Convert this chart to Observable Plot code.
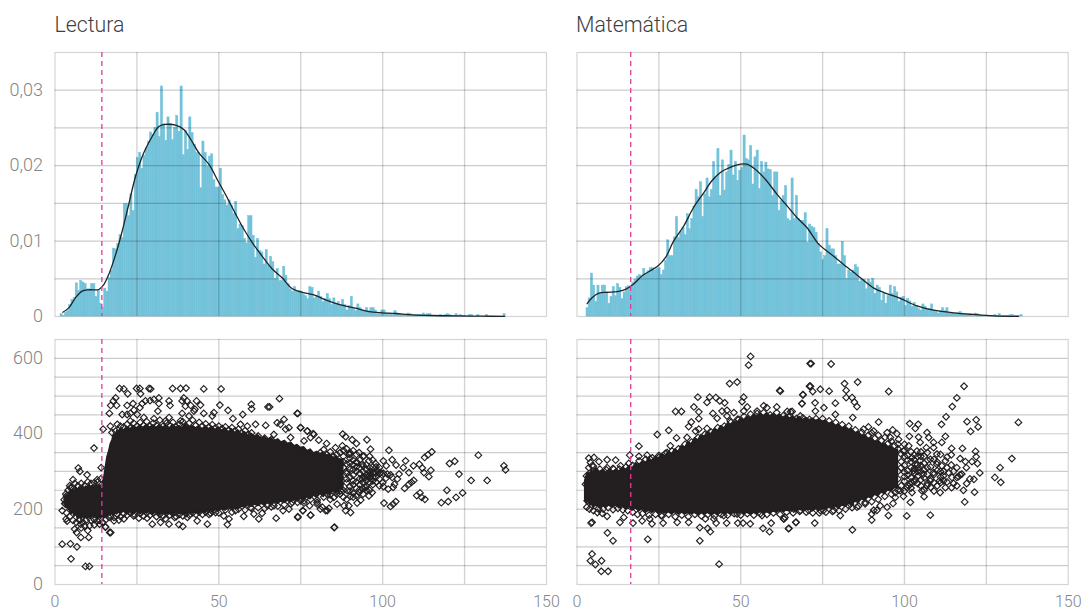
<!DOCTYPE html>
<html lang="es">
<head>
<meta charset="utf-8">
<script src="https://cdn.jsdelivr.net/npm/d3@7"></script>
<script src="https://cdn.jsdelivr.net/npm/@observablehq/plot@0.6"></script>
<style>
html,body{margin:0;padding:0;background:#fff;}
#page{position:relative;width:1083px;height:610px;overflow:hidden;font-family:Roboto,sans-serif;}
.title{position:absolute;top:11px;font-size:21.3px;font-weight:300;color:#3f3f3f;line-height:28px;}
.panel{position:absolute;}
.panel svg{overflow:visible;display:block;}
</style>
</head>
<body>
<div id="page"></div>
<script>
const titles = ["Lectura", "Matemática"];
const xTicks = [0, 50, 100, 150];
const xGrid = [25, 50, 75, 100, 125];
const densityTicks = [0, 0.01, 0.02, 0.03];
const densityGrid = [0.005, 0.01, 0.015, 0.02, 0.025, 0.03];
const scoreTicks = [0, 200, 400, 600];
const scoreGrid = [50, 100, 150, 200, 250, 300, 350, 400, 450, 500, 550, 600];
const cutLectura = 14.3;
const cutMatematica = 16.4;

// histogram bar heights, density x 10000, one per bin
const binWidth = 0.666;
const binStartLectura = 1.68;
const binStartMatematica = 2.9;
const barsLectura = [3,1,5,7,15,22,25,44,34,47,45,43,36,36,43,43,26,34,17,11,37,33,51,61,90,89,96,108,104,149,149,133,162,140,188,210,217,196,213,223,232,244,241,250,270,238,305,255,233,264,255,234,250,266,245,305,214,246,221,264,243,228,217,217,170,232,217,199,212,215,181,171,171,196,161,154,147,154,147,136,152,116,122,120,103,97,133,133,107,78,103,87,85,69,88,67,79,72,50,63,47,47,66,54,43,36,33,39,32,34,33,29,27,23,39,38,24,27,33,26,19,23,30,23,15,24,17,19,14,22,15,8,14,26,10,7,16,11,8,7,11,7,11,11,8,3,3,8,8,4,3,3,2,7,4,2,2,2,2,4,3,1,2,2,2,2,4,2,3,3,1,1,1,1,2,1,2,3,2,1,1,3,1,2,1,1,0,2,2,0,0,2,0,0,0,2,0,0,0,0,0,0,0,3];
const barsMatematica = [11,24,57,41,19,41,30,41,41,32,17,26,39,27,43,38,23,32,39,40,38,45,49,53,55,53,63,56,60,64,64,61,63,64,55,61,74,101,80,80,105,132,104,112,118,108,136,116,129,146,168,158,178,132,162,183,158,168,205,183,222,160,207,167,191,201,220,187,205,180,193,197,240,209,207,226,175,211,220,169,205,191,204,195,194,160,191,191,140,153,160,173,129,127,183,129,160,129,127,127,137,98,122,119,117,111,96,85,75,80,116,94,89,89,80,69,69,99,80,50,61,58,61,68,65,46,49,49,36,49,45,50,30,41,38,21,30,17,27,41,30,39,32,19,25,26,14,23,20,13,18,14,10,8,16,13,9,10,16,8,6,4,7,11,7,11,4,4,4,4,4,6,4,3,2,2,2,1,4,3,2,1,1,1,1,1,1,2,1,3,1,1,1,1,2,2,1,1,1,2];

// smooth density curves: [x, density x 10000]
const curveLectura = [[2.4,5.7],[4.2,11.5],[6.25,24.8],[8.3,33.6],[10.3,35.4],[13.4,35.8],[14.9,42.4],[16.4,55.7],[18.5,82],[20.5,113],[22.5,148.5],[24.6,186],[27.1,217],[29.7,239],[31.7,252],[33.7,254.6],[36.8,253.7],[39.3,248],[41.4,235],[43.9,217],[47,201.6],[49.5,181.7],[52,162],[55.1,136],[57.6,116],[60.2,98],[63.2,80],[66.3,63],[69.4,51],[71.9,38.5],[73.9,34],[76.5,31],[79.5,28],[82.6,22],[86.6,16],[91.7,11],[95.8,6.6],[99.8,4.9],[103.9,4],[109,2.2],[115,1.3],[122,0.9],[130,0.4],[137.2,0.2]];
const curveMatematica = [[3.1,17],[4.6,25],[6.7,31],[9.2,32],[12.3,33],[14.8,36],[17.3,43],[19.9,54],[22.4,60.6],[24.7,67],[27,78],[29.5,100],[32.6,120],[35.6,144.5],[38.7,164],[41.2,180],[43.8,191],[46.8,197.6],[49.9,202],[51.9,202],[54.5,195],[57.5,182],[61.1,162],[64.1,147],[67.2,131],[70.2,118],[73.8,96],[77.3,83.5],[81.4,69],[85.5,55],[90.5,38],[93.6,32],[98.7,24],[103.8,14],[108.9,8.4],[115,4.9],[121,2.7],[127.2,0.9],[134.8,0.2]];

// the solid black mass of overlapping points, read as a ragged outline: [x, lowest score, highest score]
const massLectura = [[3,212,228],[3.5,205,238],[4,200,232],[4.5,196,246],[5,186,240],[5.5,192,252],[6,180,246],[6.5,186,256],[7,174,250],[7.5,180,258],[8,172,252],[8.5,180,262],[9,174,254],[9.5,182,260],[10,172,256],[10.5,180,264],[11,174,258],[11.5,182,262],[12,176,256],[12.5,182,266],[13,174,258],[13.5,180,264],[14,174,260],[14.5,180,268],[15,176,280],[15.5,182,310],[16,178,338],[16.5,186,352],[17,182,372],[17.5,188,382],[18,184,398],[18.5,190,392],[19,186,408],[19.5,192,402],[20,188,414],[21,194,408],[22,186,418],[23,192,412],[24,186,420],[25,194,414],[26,186,422],[27,192,415],[28,188,424],[29,194,416],[30,186,422],[31,192,415],[32,184,424],[33,192,416],[34,186,422],[35,190,414],[36,184,424],[37,192,416],[38,186,420],[39,190,414],[40,186,424],[41,192,416],[42,188,420],[43,192,414],[44,188,420],[45,194,412],[46,190,420],[47,196,412],[48,192,418],[49,198,410],[50,194,416],[51,200,408],[52,196,414],[53,202,404],[54,198,412],[55,204,402],[56,200,408],[57,206,398],[58,204,404],[59,210,394],[60,206,400],[61,212,392],[62,208,396],[63,214,386],[64,210,392],[65,216,384],[66,212,388],[67,218,380],[68,214,384],[69,220,376],[70,216,380],[71,222,372],[72,218,376],[73,226,366],[74,220,370],[75,228,362],[76,222,364],[77,232,354],[78,226,358],[79,236,348],[80,230,352],[81,240,346],[82,232,350],[83,244,342],[84,236,344],[85,248,336],[86,242,338],[87,254,330],[88,250,332]];
const massMatematica = [[2.5,225,275],[3,215,290],[3.5,222,298],[4,208,292],[4.5,214,304],[5,204,298],[6,210,308],[7,202,298],[8,210,304],[9,204,296],[10,212,304],[11,204,298],[12,210,304],[13,202,300],[14,208,310],[15,200,304],[16,206,314],[17,196,308],[18,202,322],[19,194,316],[20,200,326],[21,190,322],[22,196,332],[23,190,328],[24,196,338],[25,188,334],[26,194,346],[27,188,340],[28,192,352],[29,186,346],[30,192,358],[31,186,352],[32,192,368],[33,186,362],[34,190,378],[35,186,372],[36,190,388],[37,184,382],[38,190,396],[39,186,392],[40,190,404],[41,184,398],[42,190,412],[43,184,406],[44,190,420],[45,186,414],[46,190,426],[47,186,420],[48,190,432],[49,188,428],[50,192,440],[51,186,434],[52,190,446],[53,186,440],[54,190,450],[55,186,444],[56,192,452],[57,188,446],[58,192,454],[59,188,446],[60,194,452],[61,190,444],[62,196,450],[63,192,442],[64,196,448],[65,194,440],[66,198,446],[67,194,438],[68,198,444],[69,196,436],[70,198,442],[71,198,436],[72,194,440],[73,200,434],[74,196,438],[75,202,432],[76,198,434],[77,204,426],[78,200,430],[79,206,420],[80,202,424],[81,210,414],[82,206,418],[83,214,408],[84,210,412],[85,220,402],[86,216,404],[87,226,394],[88,222,396],[89,232,386],[90,228,388],[91,238,378],[92,234,380],[93,244,372],[94,240,374],[95,250,364],[96,246,366],[97,256,356],[98,254,358]];

// individually visible points: [x, score]
const pointsLectura = [
[2.2,196],[2.2,107],[4.7,108],[6.7,100],[4.9,68],[9.3,48],[10.5,48],[3.4,174],[3.7,168],[6,147],[6.6,138],[7.9,125],[10.3,125],[10,143],[10.6,156],[7.8,160],[7.1,309],[7.6,300],[5.5,278],[9.8,291],[12.9,278],[11.9,362],[14.1,310],[14.7,412],[16.7,138],[15.4,153],[13.6,160],[12.9,169],[3.7,227],[3.2,213],[3.5,235],[4.7,257],
[3,215],[2.8,225],[3.3,240],[4,250],[4.5,262],[5.2,258],[6,268],[7,262],[8,268],[9,262],[10,272],[11,268],[12,270],[13,272],[14,280],[3.5,190],[4.5,180],[5.5,170],[6.5,165],[7.5,170],[8.5,165],[9.5,170],[11,170],[12,172],[13.5,170],[14.5,165],[15.5,172],[16.5,178],[8,150],[9,155],[12,158],
[19.7,520],[21,519],[22.2,506],[24.9,520],[25.9,520],[26.1,506],[28.7,520],[29.2,519],[35.9,520],[38.3,520],[40,521],[45.4,519],[50.7,519],[18.5,495],[17.8,487],[17,475],[18.8,475],[16.6,454],[22,475],[23.8,480],[25.9,469],[26.6,480],[27.6,487],[29,488],[30.2,491],[31.7,495],[31.7,480],[31.4,460],[34.8,487],[35.1,475],[39.3,495],[38.8,487],[40.3,487],[43.2,487],[41.4,475],[44.4,476],[42.7,465],[39.8,473],
[20.5,451],[22,451],[23,454],[24.1,463],[25.1,451],[23,434],[27.1,443],[30.2,440],[34.8,443],[33.7,434],[38.8,454],[38.3,434],[40.9,447],[42.4,460],[45.4,454],[48.5,456],[48,447],[50.3,476],[52.8,462],[57.3,451],[59.9,478],[60,466],[65,471],[65.5,471],[68.5,493],[73.9,454],[54.3,440],[56.6,425],[58.7,420],[61.2,425],[64.3,422],[67.8,429],[69.9,438],[68.8,425],[71.4,416],[70.4,412],[66.8,398],[74.9,416],[77,407],[79,398],[78,390],[76,381],[71.9,390],
[16.9,420],[17.4,403],[18.5,407],[19,425],[20,420],[21,418],[22,425],[23,415],[24,428],[25,420],[26,430],[27,422],[28,432],[29,420],[30,428],[31,422],[32,436],[33,420],[34,428],[35,422],[36,430],[37,418],[38,425],[39,432],[40,420],[41,428],[42,436],[43,422],[44,430],[45,420],[46,426],[47,418],[48,424],[49,416],[50,420],[51,414],[52,418],[53,410],[54,416],[55,408],[56,412],[57,402],[58,408],[59,398],[60,402],[62,394],[64,388],[66,384],[68,378],[70,374],[72,368],[74,358],[76,352],[78,346],[80,340],
[17,138],[15.4,152],[21,174],[25.6,176],[29.7,160],[32.2,165],[34.8,160],[37.8,159],[39,154],[36.5,178],[43.4,169],[46.5,160],[40.4,178],[49,191],[47.5,189],[51.5,182],[53.1,174],[52.6,159],[57.6,181],[60.7,187],[62.2,174],[63.2,189],[67.5,176],[74.1,180],[78,184],[85.3,152],[69.6,196],[71.4,200],[75.6,196],[83.1,196],[80,218],[86.1,213],[18,169],[19.5,171],[24.1,187],[28.1,176],[33.7,174],[55.1,196],[59.7,204],[64.8,209],[66.8,209],[72.4,218],[75,222],[81,200],[84,226],
[17,182],[18,178],[19,186],[20,180],[21,188],[22,184],[23,190],[24,182],[26,188],[27,182],[28,190],[29,184],[30,190],[31,180],[32,186],[33,182],[34,190],[35,184],[36,188],[37,180],[38,186],[39,182],[40,188],[41,184],[42,190],[43,186],[44,192],[45,186],[46,192],[47,186],[48,194],[50,190],[52,198],[54,192],[56,200],[58,198],[60,202],[62,204],[64,202],[66,206],[68,208],[70,212],[72,214],[74,218],[76,216],[78,226],[80,224],[82,232],[84,238],[86,246],
[137,315],[137.5,304],[129.2,343],[131.9,276],[127,276],[123.3,293],[122,327],[120.4,321],[124.4,243],[122.4,231],[120,220],[117.9,217],[119.6,250],[115,352],[113.8,344],[112.8,337],[114.7,303],[114.1,286],[112.6,297],[112.1,309],[111.2,319],[109.4,315],[112.9,226],[111.9,231],[111.4,243],[110.4,236],[109.5,276],[108.8,271],[108,266],[106.7,255],[108,297],[107,328],[106.3,310],[104.1,317],[102.9,331],[101.9,356],[101.1,315],[100.2,328],[104,220],[103.2,213],[102.4,207],[100.4,216],[100.2,260],[101.7,253],[103.2,258],[103.6,266],[104.5,280],[105,293],[102.9,284],[101.4,293],[99.4,297],[97.3,297],[95.8,288],[94.8,284],[93.8,280],[100.2,295],[98.4,302],[96.3,293],[102.4,291],[97.8,321],[95.8,328],[96.3,359],[95.2,384],[92.8,350],[92,374],[90.7,384],[88.7,392],[87.8,399],[94.3,341],[92.2,324],[93.8,319],[89.7,346],[87.7,368],[85.6,363],[82.9,374],[80.5,383],[78.8,400],[77,407],[75,416],[74.1,454],
[85.2,151],[78,184],[74.1,178],[75.7,196],[83.6,202],[82.6,196],[81.6,205],[90.2,191],[88.7,196],[88.2,209],[89.7,209],[93.3,224],[92.2,216],[96.8,244],[95.8,235],[94.8,257],[92.8,244],[90.2,234],[89.2,249],[87.2,249],[85.1,231],[83.1,240],[80,213],[77.7,209],[76,222],
[86,330],[87,350],[88,340],[89,320],[90,335],[91,355],[92,345],[93,330],[94,315],[95,305],[96,310],[97,285],[86,240],[87,265],[88,250],[89,270],[90,260],[91,275],[92,255],[93,265],[94,270],[95,262],[96,270],[86,300],[87,285],[88,310],[89,295],[90,305],[91,290],[92,300],[93,295],[94,300],[97,275],[98,285],[99,280],[97,265],[95,250],[81,350],[82,358],[83,345],[84,352],[85,340],[86,345],[84,325],[85,322],[87,325],[88,325],[91,318],[91,330],[93,310],[89,280],[85,255],[83,250],[91,242],[88,232],[90,248],[93,252],
[94,340],[95,318],[96,300],[97,312],[98,296],[99,310],[94,285],[95,275],[96,282],[97,295],[98,272],[99,262],[100,270],[101,282],[89,360],[90,350],[92,312],[87,240],[89,226],[91,232],[94,240],[96,250],[92,236],[88,356],[90,322],
[89,300],[90,285],[91,265],[92,325],[93,280],[94,255],[95,290],[96,340],[97,330],[98,312],[99,295],[92,272],[90,345],[91,305]
];
const pointsMatematica = [
[53,605],[52.4,582],[46.6,533],[48.9,537],[61.9,515],[69,504],[68.7,480],[71.2,586],[71,526],[36.9,497],[40.5,497],[42.4,496],[39.7,483],[43.6,487],[45.1,482],[35.7,471],[37.2,458],[30.1,459],[31.9,459],[41.5,454],[37.2,440],[34.9,431],[34.1,419],[24.5,398],[28,409],[30.4,389],[18.9,367],[16.1,343],[18.9,340],[21.4,343],[25,337],[11.8,330],[9.2,331],[6.7,326],[5.2,337],[3.6,335],[4.1,324],[3.6,310],[4.6,315],
[50.9,497],[50.4,485],[52,471],[50.9,460],[44.3,460],[45.8,462],[47.9,456],[42.8,441],[45.8,447],[46.8,434],[49.4,438],[55,460],[58,469],[61,471],[64.2,459],[65.7,459],[68.2,447],[57,474],[37.2,412],[39.7,414],[33.6,390],[36.2,407],[28.5,368],[27.5,350],[2.6,266],[3.1,222],[2.9,288],[9.2,310],[11.2,306],[13.3,315],[15.8,321],[22.4,332],
[4.3,163],[4.6,165],[9.2,181],[9.3,137],[11,116],[21.6,120],[4.6,81],[4.1,63],[5.6,53],[7.5,63],[7.4,35],[9.5,35],[37.5,151],[37.5,116],[39.9,149],[40.7,140],[43.4,54],[56.8,149],[58.8,140],[64.7,149],[66.9,165],[59.3,163],[52.9,161],[50.7,163],[49.1,163],[45.7,163],[41.8,174],[42.5,163],[39.2,174],[34.1,165],[30.6,165],[26.3,163],[22.9,161],[19.9,169],[17.1,163],[13.1,165],[14.3,178],[6.2,191],[7.7,189],[25.7,183],[22.2,174],[63.2,174],[56.5,183],[48.9,187],[44.8,183],[39.2,200],
[3,205],[3.8,200],[5,196],[6.5,201],[8,200],[9.5,204],[11,199],[12.5,202],[14,198],[15.5,196],[17,192],[18.5,186],[20,188],[22,184],[24,186],[26,182],[28,186],[30,180],[32,184],[34,180],[36,186],[38,182],[40,186],[42,182],[44,186],[46,184],[48,188],[50,184],[52,188],[54,184],[56,188],[58,186],[60,190],[62,186],[64,192],[66,190],[68,194],[70,192],
[5,314],[7,306],[9,304],[11,308],[13,306],[15,312],[17,316],[19,328],[21,332],[23,336],[25,342],[27,348],[29,354],[31,360],[33,372],[35,378],[37,390],[39,398],[41,404],[43,416],[45,420],[47,430],[49,438],[51,446],[53,452],[55,454],[57,456],[59,450],[61,456],[63,448],[65,446],[67,440],[69,442],[71,438],
[71.5,586],[77.6,585],[71.3,526],[72,512],[74.3,518],[77,513],[69,503],[68.7,480],[72.7,482],[78.9,481],[81.7,533],[85.7,537],[82.2,515],[82.2,496],[84,496],[84.7,484],[85.5,472],[95.2,512],[62.1,513],[75.4,469],[65.2,458],[72.8,460],[78.9,451],[84.2,443],[92.1,431],[89,418],[94.7,403],[96.4,410],[101.6,427],[104.2,425],[103.3,414],[106.9,403],[101.5,393],[104.3,391],[107.4,390],
[118.2,526],[116,495],[114.6,472],[112.7,445],[111.3,425],[112.5,393],[111.4,377],[108.9,377],[114.4,361],[117.7,361],[119.1,432],[121.9,437],[122.5,418],[120.2,406],[121.7,353],[121.9,339],[120.6,326],[118.6,326],[117,334],[122.3,321],[118.9,310],[123,296],[121.2,279],[121.4,245],[118.4,219],[117.5,293],[116.5,286],[114.5,284],[114.3,317],[114.3,344],[112.5,328],[111.4,315],[110.7,275],[112.5,257],[114.4,257],[110.9,244],[107.9,184],[100.7,182],[95.1,183],[90,171],[90.6,197],[91.6,197],[84.1,145],[80.4,183],[72.6,163],[66.8,165],[64.6,148],[63.1,174],[63.5,178],[132.8,334],[129.2,310],[127.6,284],[129.4,271],[134.8,430],
[101.8,218],[102.3,244],[106,233],[99.7,234],[105.3,249],[106.9,262],[107.9,275],[105.8,293],[107.9,332],[103.8,354],[106.7,363],[108.9,363],[104.8,377],[109.9,346],[109.9,319],[111.9,288],[113.5,297],[116,284],[117,291],[108.9,297],[94.7,205],[96.5,215],[97.2,231],[92.6,209],[90,187],[88,218],[85.5,205],[83.5,213],[78.4,196],[75.3,197],[74.3,197],[70.7,197],[68.2,197],[66.2,200],
[97.7,400],[90.6,407],[87.5,412],[95.7,390],[98.2,385],[101.3,368],[99.7,354],[102.3,337],[103.3,319],[104.8,328],[102.8,302],[104.3,310],[103.3,279],[101.8,266],[100.8,257],[98.7,249],[97.2,244],
[73,440],[75,440],[77,434],[79,430],[81,424],[83,420],[85,410],[87,404],[89,396],[91,388],[93,382],[95,374],[97,368],[99,346],[101,342],[103,330],[105,316],[106,304],[107,292],[104,268],[102,256],[100,274],[98,250],[96,240],[94,234],[92,226],[90,220],[88,214],[86,208],[84,204],[82,200],[80,196],[78,194],[76,192],[74,190],[72,190],
[105,340],[106,322],[107,350],[108,312],[109,332],[110,302],[106,283],[107,268],[108,258],[109,248],[110,262],[111,270],[112,300],[113,310],[111,300],[113,272],[115,268],[116,262],[118,250],[119,268],[120,280],[115,300],[116,310],[113,338],[100,298],[101,330],[103,296],[98,360],[100,372],[96,380],[94,390],[92,396],[90,402],
[104,300],[102,310],[101,290],[100,316],[99,326],[103,272],[104,286],[105,262],[106,250],[102,272],[100,248],[98,280],[96,274],[94,262],[104,340],[102,352],[100,356],[98,372],[105,352],
[99,310],[100,286],[101,264],[102,284],[103,344],[104,318],[105,278],[106,340],[107,310],[108,280],[109,270],[110,325],[111,345],[112,275],[100,340],[99,262],[101,302],[102,326],[103,308],[105,300],[107,330],[109,292],[111,285],[98,300]
];

const bar = "#72c2da";
const fontStyle = {fontFamily: "Roboto, sans-serif", fontWeight: 300, background: "transparent"};
const page = document.getElementById("page");

titles.forEach((t, i) => {
  const d = document.createElement("div");
  d.className = "title";
  d.style.left = (i === 0 ? 54.5 : 576) + "px";
  d.textContent = t;
  page.appendChild(d);
});

const geom = [
  {left: 0, width: 570, marginLeft: 54.5, marginRight: 24},
  {left: 550, width: 533, marginLeft: 26.5, marginRight: 15.3}
];

function place(node, left, top) {
  const holder = document.createElement("div");
  holder.className = "panel";
  holder.style.left = left + "px";
  holder.style.top = top + "px";
  holder.appendChild(node);
  page.appendChild(holder);
}

function gridMarks(yGrid) {
  return [
    Plot.ruleX(xGrid, {stroke: "#000", strokeOpacity: 0.17, strokeWidth: 1.4}),
    Plot.ruleY(yGrid, {stroke: "#000", strokeOpacity: 0.2, strokeWidth: 1.2}),
    Plot.frame({stroke: "#000", strokeOpacity: 0.17, strokeWidth: 1.2})
  ];
}

function histPanel(col, bars, start, curve, cut, showY) {
  const g = geom[col];
  const rows = bars.map((v, i) => ({a: start + i * binWidth, b: start + (i + 1) * binWidth, v: v / 10000}));
  place(Plot.plot({
    width: g.width, height: 325,
    marginLeft: g.marginLeft, marginRight: g.marginRight, marginTop: 52, marginBottom: 9,
    style: fontStyle,
    x: {domain: [0, 150]},
    y: {domain: [0, 0.035]},
    marks: [
      Plot.rectY(rows, {x1: "a", x2: "b", y1: 0, y2: "v", fill: bar, stroke: bar, strokeWidth: 0.5}),
      ...gridMarks(densityGrid),
      Plot.line(curve, {x: d => d[0], y: d => d[1] / 10000, stroke: "#1f2326", strokeWidth: 1.3, curve: "catmull-rom"}),
      Plot.ruleX([cut], {stroke: "#dc3c9c", strokeWidth: 1.3, strokeDasharray: "5,4"}),
      showY ? Plot.axisY({ticks: densityTicks, tickSize: 0, tickPadding: 12, fontSize: 18, label: null, color: "#858585",
        tickFormat: d => d === 0 ? "0" : d.toFixed(2).replace(".", ",")}) : Plot.axisY({ticks: [], label: null, tickSize: 0}),
      Plot.axisX({ticks: [], label: null, tickSize: 0})
    ]
  }), g.left, 0);
}

function scatterPanel(col, mass, points, cut, showY) {
  const g = geom[col];
  place(Plot.plot({
    width: g.width, height: 280,
    marginLeft: g.marginLeft, marginRight: g.marginRight, marginTop: 9, marginBottom: 26,
    style: fontStyle,
    x: {domain: [0, 150]},
    y: {domain: [0, 650]},
    marks: [
      ...gridMarks(scoreGrid),
      Plot.areaY(mass, {x: d => d[0], y1: d => d[1], y2: d => d[2], fill: "#231f20", stroke: "#231f20", strokeWidth: 1.5}),
      Plot.dot(points, {x: d => d[0], y: d => d[1], symbol: "diamond2", r: 3, stroke: "#231f20", strokeWidth: 1.15, fill: "none"}),
      Plot.ruleX([cut], {stroke: "#dc3c9c", strokeWidth: 1.3, strokeDasharray: "5,4"}),
      Plot.axisX({ticks: xTicks, tickSize: 0, tickPadding: 11.5, fontSize: 16, label: null, color: "#858585"}),
      showY ? Plot.axisY({ticks: scoreTicks, tickSize: 0, tickPadding: 12, fontSize: 18, label: null, color: "#858585"})
            : Plot.axisY({ticks: [], label: null, tickSize: 0})
    ]
  }), g.left, 330);
}

histPanel(0, barsLectura, binStartLectura, curveLectura, cutLectura, true);
histPanel(1, barsMatematica, binStartMatematica, curveMatematica, cutMatematica, false);
scatterPanel(0, massLectura, pointsLectura, cutLectura, true);
scatterPanel(1, massMatematica, pointsMatematica, cutMatematica, false);
</script>
</body>
</html>
